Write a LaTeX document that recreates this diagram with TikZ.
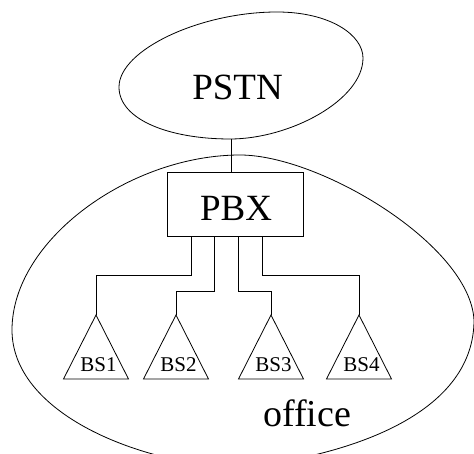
\documentclass[tikz,border=0pt]{standalone}
\usepackage{fontspec}
\setmainfont{Liberation Serif}
\begin{document}
\begin{tikzpicture}[x=1pt, y=-1pt, line width=0.8pt,
  bigtext/.style={font=\fontsize{37}{40}\selectfont, inner sep=0pt},
  bstext/.style={font=\fontsize{21}{24}\selectfont, inner sep=0pt},
  boxnode/.style={draw, minimum width=136pt, minimum height=64pt, inner sep=0pt},
  link/.style={line width=0.7pt}]
\useasboundingbox (0,0) rectangle (474,454);
\clip (0,0) rectangle (474,454);

% PSTN cloud
\draw (119,87) .. controls (119,50) and (200,12) .. (277,12)
               .. controls (330,12) and (363,35) .. (363,58)
               .. controls (363,100) and (290,139) .. (230,139)
               .. controls (170,139) and (119,120) .. (119,87) -- cycle;
\node[bigtext] (pstn) at (237.5,87.5) {PSTN};
\coordinate (pstnbot) at (231,139);

% office boundary
\draw (240,155) .. controls (320,155) and (470,245) .. (474,320)
                .. controls (474,410) and (360,455) .. (237,468)
                .. controls (130,462) and (12,410) .. (12,330)
                .. controls (12,240) and (130,155) .. (240,155) -- cycle;
\node[bigtext, font=\fontsize{38}{40}\selectfont] (office) at (307,413) {office};

% PBX
\node[boxnode] (pbx) at (235,204) {};
\node[bigtext] (pbxlabel) at (236,208.5) {PBX};
\draw[link] (pstnbot) -- (pstnbot |- pbx.north);

% base stations
\coordinate (t1) at (96,315);
\coordinate (t2) at (176,315);
\coordinate (t3) at (271,315);
\coordinate (t4) at (359,315);
\foreach \t in {t1,t2,t3,t4}
  \draw (\t) -- ++(-32.5,64) -- ++(65,0) -- cycle;
\node[bstext] (bs1) at (98.5,364.5) {BS1};
\node[bstext] (bs2) at (178.5,364.5) {BS2};
\node[bstext] (bs3) at (273.5,364.5) {BS3};
\node[bstext] (bs4) at (361.5,364.5) {BS4};

% PBX to base station wiring
\draw[link] ([xshift=25pt]pbx.south west) -- ++(0,39) -| (t1);
\draw[link] ([xshift=48pt]pbx.south west) -- ++(0,55) -| (t2);
\draw[link] ([xshift=72pt]pbx.south west) -- ++(0,55) -| (t3);
\draw[link] ([xshift=96pt]pbx.south west) -- ++(0,39) -| (t4);
\end{tikzpicture}
\end{document}
